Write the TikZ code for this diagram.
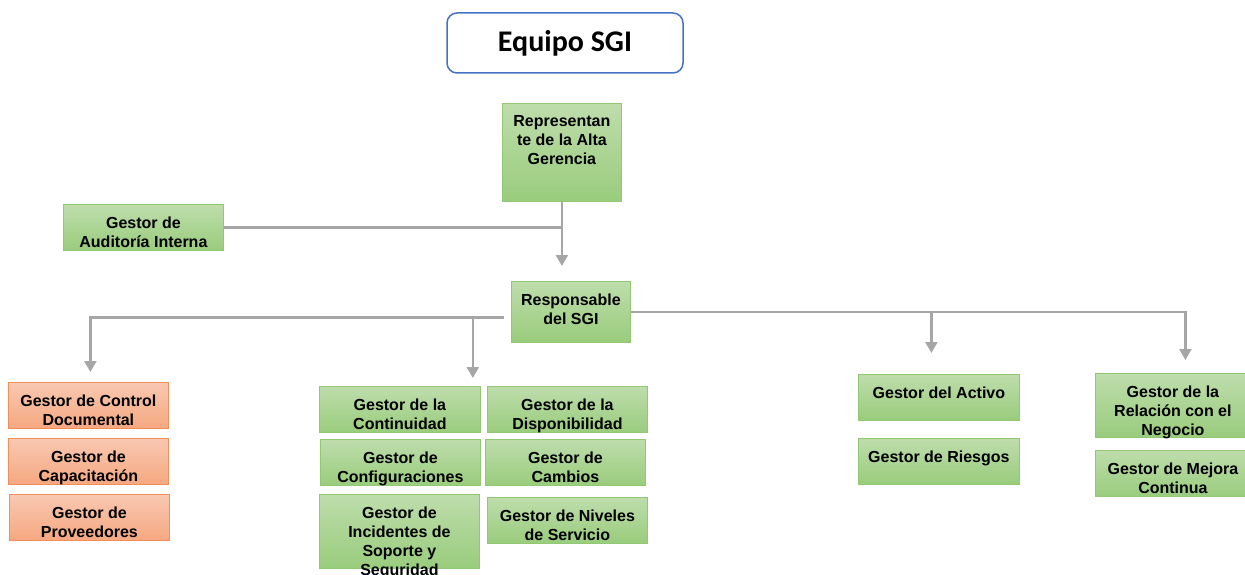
\documentclass[tikz,border=0pt]{standalone}
\usepackage{fontspec}
\setmainfont{Liberation Sans}
\newfontfamily\titlefont{Carlito}
\usetikzlibrary{arrows.meta,calc}
\definecolor{boxgreentop}{RGB}{190,221,172}
\definecolor{boxgreenbot}{RGB}{153,204,124}
\definecolor{boxgreenline}{RGB}{146,200,114}
\definecolor{boxorangetop}{RGB}{249,200,178}
\definecolor{boxorangebot}{RGB}{245,168,128}
\definecolor{boxorangeline}{RGB}{241,142,90}
\definecolor{linkgray}{RGB}{166,166,166}
\definecolor{titleblue}{RGB}{68,114,196}
\newcommand{\boxtext}[3]{\parbox[c][#2][t]{#1}{\centering\vspace*{12.5pt}#3\par}}
\tikzset{
greenbox/.style={inner sep=0pt, anchor=north west, draw=boxgreenline, line width=0.8pt,
    top color=boxgreentop, bottom color=boxgreenbot,
    font=\fontsize{16}{19}\selectfont\bfseries},
orangebox/.style={greenbox, draw=boxorangeline, top color=boxorangetop, bottom color=boxorangebot},
titlebox/.style={draw=titleblue, line width=1.5pt, rounded corners=10pt, fill=white,
    minimum width=236pt, minimum height=60pt, font=\titlefont\fontsize{30}{36}\selectfont\bfseries},
link/.style={draw=linkgray, line width=2.3pt},
arr/.style={link, -{Triangle[width=12pt,length=11pt]}},
}

\begin{document}
\begin{tikzpicture}[x=1pt, y=-1pt]
        \useasboundingbox (0,0) rectangle (1245,575);

        \node[titlebox] (title) at (565,43) {Equipo SGI};

        \node[greenbox] (rep) at (502,103) {\boxtext{119pt}{98pt}{Representan\\te de la Alta\\Gerencia}};
        \node[greenbox] (aud) at (63,204) {\boxtext{160pt}{46pt}{Gestor de\\Auditoría Interna}};
        \node[greenbox] (resp) at (511,281) {\boxtext{119pt}{61pt}{Responsable\\del SGI}};

        \node[orangebox] (doc) at (8,382) {\boxtext{160pt}{46pt}{Gestor de Control\\Documental}};
        \node[orangebox] (cap) at (8,438) {\boxtext{160pt}{46pt}{Gestor de\\Capacitación}};
        \node[orangebox] (prov) at (9,494) {\boxtext{160pt}{46pt}{Gestor de\\Proveedores}};

        \node[greenbox] (cont) at (319,386) {\boxtext{161pt}{46pt}{Gestor de la\\Continuidad}};
        \node[greenbox] (disp) at (487,386) {\boxtext{160pt}{46pt}{Gestor de la\\Disponibilidad}};
        \node[greenbox] (conf) at (320,439) {\boxtext{160pt}{46pt}{Gestor de\\Configuraciones}};
        \node[greenbox] (camb) at (485,439) {\boxtext{160pt}{46pt}{Gestor de\\Cambios}};
        \node[greenbox] (inc) at (319,494) {\boxtext{160pt}{74pt}{Gestor de\\Incidentes de\\Soporte y\\Seguridad}};
        \node[greenbox] (niv) at (487,497) {\boxtext{160pt}{46pt}{Gestor de Niveles\\de Servicio}};

        \node[greenbox] (act) at (858,374) {\boxtext{161pt}{46pt}{Gestor del Activo}};
        \node[greenbox] (ries) at (858,438) {\boxtext{161pt}{46pt}{Gestor de Riesgos}};
        \node[greenbox] (rel) at (1095,373) {\boxtext{155pt}{64pt}{Gestor de la\\Relación con el\\Negocio}};
        \node[greenbox] (mej) at (1095,450) {\boxtext{155pt}{46pt}{Gestor de Mejora\\Continua}};

        \draw[arr] (rep.south) -- ($(rep.south |- resp.north)+(0,-15)$);
        \draw[link] (aud.east) -- (aud.east -| rep.south);

        \draw[arr] ($(resp.west)+(-7,5.5)$) -| ($(doc.north)+(2,-10)$);
        \draw[arr] ($(resp.west)+(-27,5.5)$) -| ($(cont.north east)+(-8,-8)$);
        \draw[arr] (resp.east) -| ($(act.north)+(-7.5,-21)$);
        \draw[arr] (resp.east) -| ($(rel.north)+(12.5,-13)$);
    \end{tikzpicture}
\end{document}
